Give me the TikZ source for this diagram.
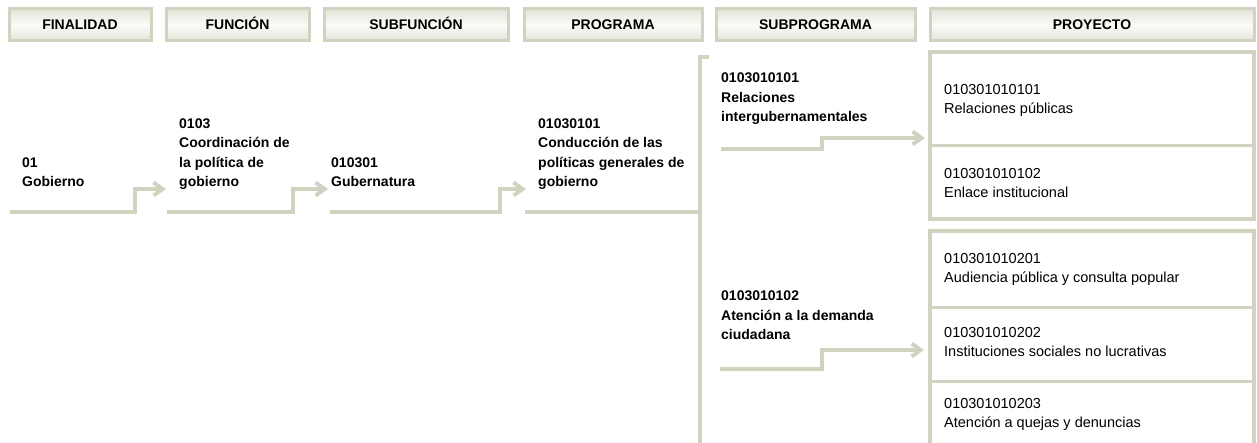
\documentclass[tikz,border=0pt]{standalone}
\usepackage{fontspec}
\setmainfont{Liberation Sans}
\usetikzlibrary{arrows.meta,calc}
\definecolor{framegray}{HTML}{D0D3C0}
\definecolor{headedge}{HTML}{E2E4D8}
\definecolor{headmid}{HTML}{FBFBF8}
\begin{document}
\begin{tikzpicture}[x=1pt,y=-1pt,
  hdr/.style={rectangle,draw=framegray,line width=3pt,top color=headedge,bottom color=headedge,middle color=headmid,minimum height=32pt,inner sep=0pt,text height=10pt,text depth=0pt,font=\fontsize{14}{16}\selectfont\bfseries},
  lbl/.style={anchor=south west,inner sep=0pt,text depth=0pt,align=left,font=\fontsize{14}{19.5}\selectfont\bfseries},
  proj/.style={anchor=base west,inner sep=0pt,align=left,font=\fontsize{14.5}{19}\selectfont},
  frame/.style={draw=framegray,line width=4pt},
  rule/.style={draw=framegray,line width=3pt},
  link/.style={draw=framegray,line width=4pt},
  arr/.style={link,-{Straight Barb[length=9pt,width=13pt]}}
]
\useasboundingbox (0,0) rectangle (1257,443);
\clip (0,0) rectangle (1257,443);
% column headers
\node[hdr,minimum width=142pt] (hfin) at (80,25) {FINALIDAD};
\node[hdr,minimum width=143pt] (hfun) at (237.5,25) {FUNCIÓN};
\node[hdr,minimum width=184pt] (hsfn) at (416,25) {SUBFUNCIÓN};
\node[hdr,minimum width=178pt] (hprg) at (613,25) {PROGRAMA};
\node[hdr,minimum width=199pt] (hspr) at (815.5,25) {SUBPROGRAMA};
\node[hdr,minimum width=324pt] (hpry) at (1092,25) {PROYECTO};
% classification levels
\node[lbl] (fin) at (22,187) {01\\Gobierno};
\node[lbl] (fun) at (179,187) {0103\\Coordinación de\\la política de\\gobierno};
\node[lbl] (sfn) at (331,187) {010301\\Gubernatura};
\node[lbl] (prg) at (538,187) {01030101\\Conducción de las\\políticas generales de\\gobierno};
\node[lbl] (spr1) at (721,122) {0103010101\\Relaciones\\intergubernamentales};
\node[lbl] (spr2) at (721,340) {0103010102\\Atención a la demanda\\ciudadana};
% project frames
\draw[frame] (930,52) rectangle (1254,219);
\draw[rule] (930,146) -- (1254,146);
\draw[frame] (930,231) rectangle (1254,460);
\draw[rule] (930,308) -- (1254,308);
\draw[rule] (930,381) -- (1254,381);
% projects
\node[proj] (p1) at (944,114) {010301010101\\Relaciones públicas};
\node[proj] (p2) at (944,198) {010301010102\\Enlace institucional};
\node[proj] (p3) at (944,283) {010301010201\\Audiencia pública y consulta popular};
\node[proj] (p4) at (944,356) {010301010202\\Instituciones sociales no lucrativas};
\node[proj] (p5) at (944,427) {010301010203\\Atención a quejas y denuncias};
% connector ends
\coordinate (fin-out) at (10,212);
\coordinate (fun-in) at (166,189);
\coordinate (fun-out) at (167,212);
\coordinate (sfn-in) at (328,189);
\coordinate (sfn-out) at (330,212);
\coordinate (prg-in) at (526,189);
\coordinate (prg-out) at (525,212);
\coordinate (bar-top) at (700,57);
\coordinate (bar-bot) at (700,450);
\coordinate (spr1-out) at (721,149);
\coordinate (p1-in) at (925,138);
\coordinate (spr2-out) at (720,369);
\coordinate (p4-in) at (924,350);
\draw[arr] (fin-out) -| (135,189) -- (fun-in);
\draw[arr] (fun-out) -| (293,189) -- (sfn-in);
\draw[arr] (sfn-out) -| (500,189) -- (prg-in);
\draw[link] (prg-out) -- (bar-top |- prg-out);
\draw[link] ($(bar-top)+(9,0)$) -- (bar-top) -- (bar-bot);
\draw[arr] (spr1-out) -| (822,138) -- (p1-in);
\draw[arr] (spr2-out) -| (822,350) -- (p4-in);
\end{tikzpicture}
\end{document}
